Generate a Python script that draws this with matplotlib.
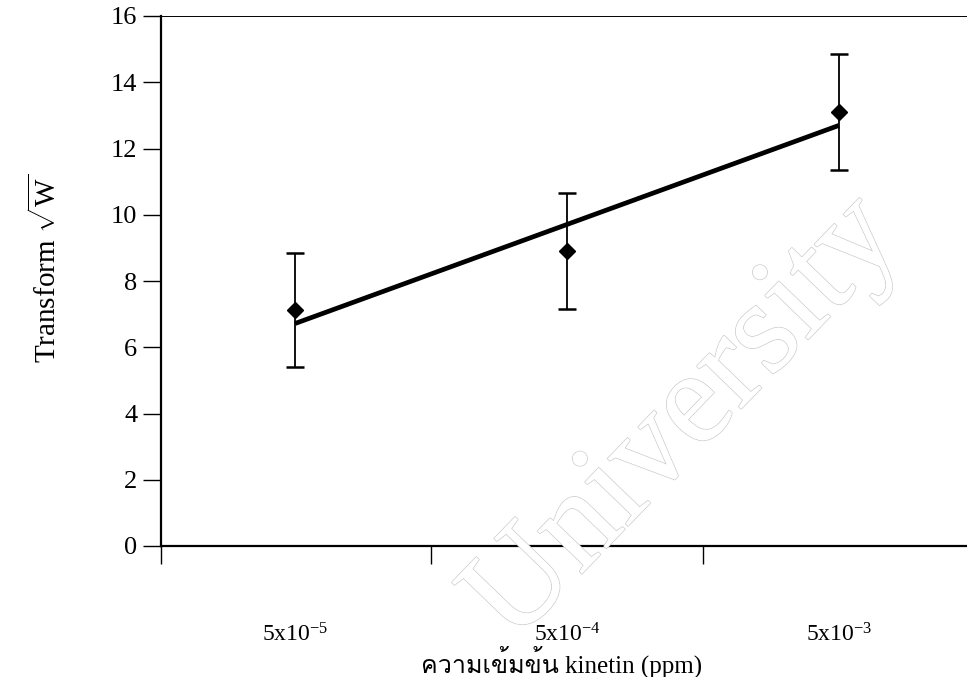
import numpy as np
import matplotlib
matplotlib.use("Agg")
import matplotlib.pyplot as plt
import matplotlib.patheffects as pe
from matplotlib import font_manager
from matplotlib.ft2font import FT2Font

# Data
categories = ["5x10$^{-5}$", "5x10$^{-4}$", "5x10$^{-3}$"]
means = [7.12, 8.90, 13.10]
errors = [1.72, 1.76, 1.74]
y_ticks = [0, 2, 4, 6, 8, 10, 12, 14, 16]
x_label = "ความเข้มข้น kinetin (ppm)"
y_label = r"Transform $\sqrt{\mathrm{W}}$"
watermark = "University"


def thai_fonts():
    found = []
    for f in font_manager.fontManager.ttflist:
        try:
            ft = FT2Font(f.fname)
            if ft.get_char_index(ord("ค")) != 0:
                found.append(f.name)
        except Exception:
            pass
    return found


thai = thai_fonts()
serif = "Liberation Serif"
plt.rcParams["font.family"] = [serif] + thai + ["DejaVu Sans"]
plt.rcParams["mathtext.fontset"] = "custom"
plt.rcParams["mathtext.rm"] = serif
plt.rcParams["mathtext.it"] = serif + ":italic"

W, H = 967, 677
fig = plt.figure(figsize=(W / 100, H / 100), dpi=100)
ax = fig.add_axes([161 / W, 1 - 546 / H, 1 - 161 / W, (546 - 16) / H])

# Faint outlined watermark behind the plot
fig.text(685 / W, 1 - 420 / H, watermark, rotation=46, ha="center", va="center",
         fontsize=96, color="white", zorder=0,
         path_effects=[pe.withStroke(linewidth=1.3, foreground="#cfcfcf"),
                       pe.Normal()])
ax.patch.set_alpha(0)

x = np.arange(len(categories))
ax.errorbar(x, means, yerr=errors, fmt="none", ecolor="black",
            elinewidth=1.3, capsize=6.5, capthick=1.8, zorder=3)
ax.plot(x, means, linestyle="none", marker="D", markersize=8.5,
        color="black", zorder=4)

# Linear trend through the means
slope, intercept = np.polyfit(x, means, 1)
ax.plot(x[[0, -1]], slope * x[[0, -1]] + intercept, color="black",
        linewidth=3.4, solid_capstyle="butt", zorder=2)

ax.set_xlim(-0.493, 2.471)
ax.set_ylim(0, 16)
ax.set_yticks(y_ticks)
ax.set_yticklabels([str(t) for t in y_ticks], fontsize=19)

ax.set_xticks([-0.493, 0.5, 1.5])
ax.set_xticklabels([])
ax.set_xticks(x, minor=True)
ax.set_xticklabels(categories, minor=True, fontsize=17)
ax.tick_params(axis="x", which="minor", length=0, pad=56)
ax.tick_params(axis="x", which="major", length=13, width=1.0, direction="out")
ax.tick_params(axis="y", length=13, width=1.0, direction="out", pad=4)

for s in ("left", "bottom"):
    ax.spines[s].set_linewidth(1.6)
ax.spines["top"].set_linewidth(0.7)
ax.spines["right"].set_visible(False)

fig.text(45 / W, 1 - 268 / H, y_label, rotation=90, ha="center", va="center",
         fontsize=21)
fig.text(562 / W, 1 - 662 / H, x_label, ha="center", va="center", fontsize=18)

fig.savefig("out.png", dpi=100)
